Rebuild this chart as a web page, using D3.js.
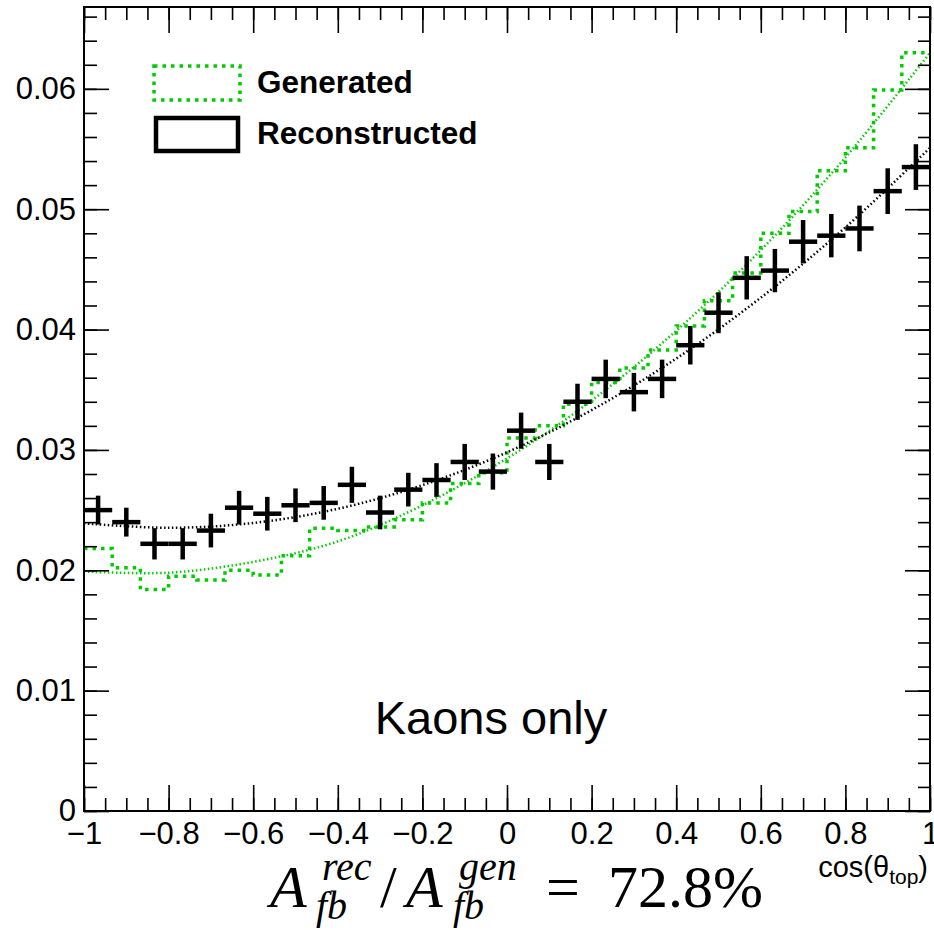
<!DOCTYPE html>
<html>
<head>
<meta charset="utf-8">
<script src="https://cdn.jsdelivr.net/npm/d3@7"></script>
<style>
  html, body { margin: 0; padding: 0; background: #fff; }
  svg { display: block; }
</style>
</head>
<body>
<svg id="chart" width="934" height="930"></svg>
<script>
// cos(theta_top) histogram, 30 bins from -1 to 1
const xRange = [-1, 1];
const nBins = 30;

// Reconstructed (kaons only): normalised bin contents and errors
const recoValues = [0.0250, 0.0240, 0.0222, 0.0222, 0.0233, 0.0252, 0.0247, 0.0254, 0.0256, 0.0271,
                    0.0248, 0.0267, 0.0275, 0.0290, 0.0282, 0.0316, 0.0290, 0.0340, 0.0359, 0.0348,
                    0.0359, 0.0387, 0.0414, 0.0443, 0.0449, 0.0473, 0.0478, 0.0484, 0.0515, 0.0535];
const recoErrors = [0.0012, 0.0012, 0.0013, 0.0013, 0.0014, 0.0014, 0.0014, 0.0014, 0.0014, 0.0015,
                    0.0014, 0.0014, 0.0014, 0.0015, 0.0015, 0.0015, 0.0015, 0.0015, 0.0016, 0.0016,
                    0.0016, 0.0016, 0.0017, 0.0018, 0.0018, 0.0018, 0.0018, 0.0019, 0.0019, 0.0019];

// Generated: normalised bin contents
const genValues = [0.0218, 0.0202, 0.0184, 0.0195, 0.0192, 0.0200, 0.0196, 0.0212, 0.0235, 0.0233,
                   0.0236, 0.0242, 0.0256, 0.0272, 0.0281, 0.0310, 0.0320, 0.0338, 0.0356, 0.0368,
                   0.0383, 0.0403, 0.0424, 0.0447, 0.0480, 0.0498, 0.0532, 0.0551, 0.0599, 0.0630];

// Fitted curves, sampled at cos(theta) = -1, -0.8, ..., 1
const fitX = [-1, -0.8, -0.6, -0.4, -0.2, 0, 0.2, 0.4, 0.6, 0.8, 1];
const recoFit = [0.0239, 0.02353, 0.02393, 0.02511, 0.02707, 0.0298, 0.03331, 0.03759, 0.04265, 0.04849, 0.0551];
const genFit  = [0.0199, 0.0198, 0.0207, 0.0224, 0.0254, 0.0293, 0.0341, 0.0399, 0.0466, 0.0543, 0.0630];

// Axis ticks and labels
const xMajorTicks = [-1, -0.8, -0.6, -0.4, -0.2, 0, 0.2, 0.4, 0.6, 0.8, 1];
const xTickLabels = ["\u22121", "\u22120.8", "\u22120.6", "\u22120.4", "\u22120.2", "0", "0.2", "0.4", "0.6", "0.8", "1"];
const yMajorTicks = [0, 0.01, 0.02, 0.03, 0.04, 0.05, 0.06];
const yTickLabels = ["0", "0.01", "0.02", "0.03", "0.04", "0.05", "0.06"];
const xMinorTicks = d3.range(-20, 21).map(i => i * 0.05);
const yMinorTicks = d3.range(0, 34).map(i => i * 0.002);

const legendEntries = ["Generated", "Reconstructed"];
const GREEN = "#00cc00";

const svg = d3.select("#chart");
svg.append("rect").attr("width", 934).attr("height", 930).attr("fill", "#fff");

const L = 84, R = 930, T = 7, B = 811;
const x = d3.scaleLinear().domain(xRange).range([L, R]);
const y = d3.scaleLinear().domain([0, 0.0668]).range([B, T]);

const binW = (xRange[1] - xRange[0]) / nBins;
const edges = d3.range(nBins + 1).map(i => xRange[0] + i * binW);

const plot = svg.append("g");
svg.append("clipPath").attr("id", "frameClip")
  .append("rect").attr("x", L).attr("y", T).attr("width", R - L).attr("height", B - T);
plot.attr("clip-path", "url(#frameClip)");

// Generated histogram outline (dotted step line)
const genPts = genValues.map((v, i) => [edges[i], v]).concat([[edges[nBins], genValues[nBins - 1]]]);
plot.append("path")
  .attr("d", d3.line().x(d => x(d[0])).y(d => y(d[1])).curve(d3.curveStepAfter)(genPts))
  .attr("fill", "none").attr("stroke", GREEN).attr("stroke-width", 3.5)
  .attr("stroke-dasharray", "3.5,5");

// Fit curves
const fitLine = d3.line().x((d, i) => x(fitX[i])).y(d => y(d)).curve(d3.curveCatmullRom);
plot.append("path").attr("d", fitLine(genFit))
  .attr("fill", "none").attr("stroke", GREEN).attr("stroke-width", 2.5)
  .attr("stroke-dasharray", "1.5,2.5");
plot.append("path").attr("d", fitLine(recoFit))
  .attr("fill", "none").attr("stroke", "#000").attr("stroke-width", 2.5)
  .attr("stroke-dasharray", "1.5,2.5");

// Reconstructed points with error bars
const pts = plot.append("g").attr("stroke", "#000").attr("stroke-width", 4.5);
recoValues.forEach((v, i) => {
  const xc = x(edges[i] + binW / 2);
  pts.append("line").attr("x1", x(edges[i])).attr("x2", x(edges[i + 1]))
    .attr("y1", y(v)).attr("y2", y(v));
  pts.append("line").attr("x1", xc).attr("x2", xc)
    .attr("y1", y(v - recoErrors[i])).attr("y2", y(v + recoErrors[i]));
});

// Axes: ticks inside the frame on all four sides
function styleAxis(g) {
  g.select(".domain").remove();
  g.selectAll(".tick line").attr("stroke", "#000").attr("stroke-width", 1.6);
  g.selectAll(".tick text").attr("fill", "#000")
    .style("font-family", "'Liberation Sans', Arial, sans-serif").style("font-size", "31px");
}
const fmtX = d => xTickLabels[xMajorTicks.findIndex(t => Math.abs(t - d) < 1e-9)];
const fmtY = d => yTickLabels[yMajorTicks.findIndex(t => Math.abs(t - d) < 1e-9)];

svg.append("g").attr("transform", `translate(0,${B})`)
  .call(d3.axisBottom(x).tickValues(xMinorTicks).tickSize(-13).tickFormat("")).call(styleAxis);
svg.append("g").attr("transform", `translate(0,${B})`)
  .call(d3.axisBottom(x).tickValues(xMajorTicks).tickSize(-26).tickPadding(11).tickFormat(fmtX)).call(styleAxis);
svg.append("g").attr("transform", `translate(0,${T})`)
  .call(d3.axisTop(x).tickValues(xMinorTicks).tickSize(-13).tickFormat("")).call(styleAxis);
svg.append("g").attr("transform", `translate(0,${T})`)
  .call(d3.axisTop(x).tickValues(xMajorTicks).tickSize(-26).tickFormat("")).call(styleAxis);

svg.append("g").attr("transform", `translate(${L},0)`)
  .call(d3.axisLeft(y).tickValues(yMinorTicks).tickSize(-13).tickFormat("")).call(styleAxis);
svg.append("g").attr("transform", `translate(${L},0)`)
  .call(d3.axisLeft(y).tickValues(yMajorTicks).tickSize(-25).tickPadding(8).tickFormat(fmtY)).call(styleAxis);
svg.append("g").attr("transform", `translate(${R},0)`)
  .call(d3.axisRight(y).tickValues(yMinorTicks).tickSize(-12).tickFormat("")).call(styleAxis);
svg.append("g").attr("transform", `translate(${R},0)`)
  .call(d3.axisRight(y).tickValues(yMajorTicks).tickSize(-25).tickFormat("")).call(styleAxis);

// Frame
svg.append("rect").attr("x", L).attr("y", T).attr("width", R - L).attr("height", B - T)
  .attr("fill", "none").attr("stroke", "#000").attr("stroke-width", 2);

// Legend
const leg = svg.append("g");
leg.append("rect").attr("x", 154).attr("y", 66).attr("width", 86).attr("height", 34)
  .attr("fill", "none").attr("stroke", GREEN).attr("stroke-width", 3.5).attr("stroke-dasharray", "3.5,5");
leg.append("rect").attr("x", 156).attr("y", 118).attr("width", 82).attr("height", 33)
  .attr("fill", "none").attr("stroke", "#000").attr("stroke-width", 4.5);
leg.selectAll("text.entry").data(legendEntries).join("text")
  .attr("class", "entry")
  .attr("x", 257).attr("y", (d, i) => 93 + i * 51)
  .style("font-family", "'Liberation Sans', Arial, sans-serif")
  .style("font-weight", "bold").style("font-size", "31.5px")
  .text(d => d);

// Annotation
svg.append("text").attr("x", 491).attr("y", 734).attr("text-anchor", "middle")
  .style("font-family", "'Liberation Sans', Arial, sans-serif").style("font-size", "47px")
  .text("Kaons only");

// X-axis title
const xt = svg.append("text").attr("x", 928).attr("y", 877).attr("text-anchor", "end")
  .style("font-family", "'Liberation Sans', Arial, sans-serif").style("font-size", "29px");
xt.append("tspan").text("cos(\u03b8");
xt.append("tspan").attr("dy", 7).style("font-size", "21px").text("top");
xt.append("tspan").attr("dy", -7).text(")");

// Asymmetry ratio
const serif = "'Liberation Serif', 'DejaVu Serif', serif";
const eq = svg.append("g").style("font-family", serif);
function put(txt, px, py, size, italic) {
  eq.append("text").attr("x", px).attr("y", py)
    .style("font-size", size + "px").style("font-style", italic ? "italic" : "normal")
    .text(txt);
}
put("A", 270, 907, 60, true);
put("rec", 322, 880, 40, true);
put("fb", 316, 919, 40, true);
put("/", 380, 907, 60, false);
put("A", 406, 907, 60, true);
put("gen", 459, 880, 40, true);
put("fb", 453, 919, 40, true);
put("=", 546, 907, 60, false);
put("72.8%", 608, 907, 60, false);
</script>
</body>
</html>
